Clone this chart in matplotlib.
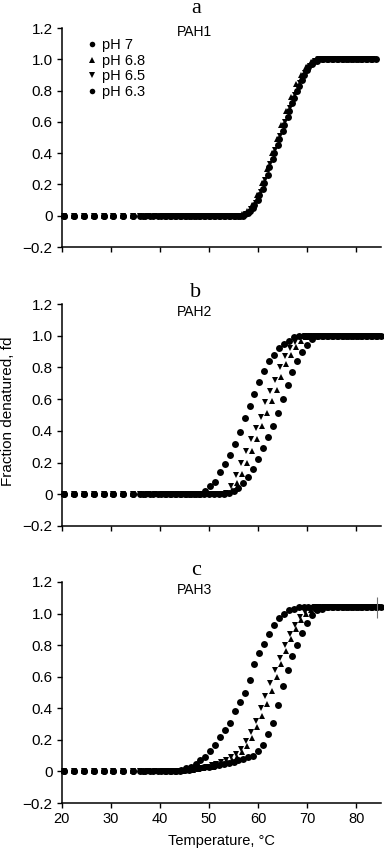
import matplotlib.pyplot as plt

plt.rcParams['font.family'] = ['Liberation Sans', 'DejaVu Sans']

# temperature readings (deg C) for each pH series; each run was sampled on its own grid
temp_ph7 = [20.5, 22.5, 24.5, 26.5, 28.5, 30.5, 32.5, 34.5, 36.5, 38, 39.5, 41,
            42, 43, 44, 45, 46, 47, 48, 49, 50, 51, 52, 53, 54, 55,
            56, 57, 58, 59, 60, 61, 62, 63, 64, 65, 66, 67, 68, 69, 70,
            71, 72, 73, 74, 75, 76, 77, 78, 79, 80, 81, 82, 83, 84, 85]
temp_ph68 = [20.5, 22.5, 24.5, 26.5, 28.5, 30.5, 32.5, 34.5, 36.5, 37.5, 39, 40.75,
             41.75, 42.75, 43.75, 44.75, 45.75, 46.75, 47.75, 48.75, 49.75, 50.75,
             51.75, 52.75, 53.75, 54.75, 55.75, 56.75, 57.75, 58.75, 59.75, 60.75,
             61.75, 62.75, 63.75, 64.75, 65.75, 66.75, 67.75, 68.75, 69.75, 70.75,
             71.75, 72.75, 73.75, 74.75, 75.75, 76.75, 77.75, 78.75, 79.75, 80.75,
             81.75, 82.75, 83.75, 84.75]
temp_ph65 = [20.5, 22.5, 24.5, 26.5, 28.5, 30.5, 32.5, 34.5, 36, 37.5, 39, 40.5,
             41.5, 42.5, 43.5, 44.5, 45.5, 46.5, 47.5, 48.5, 49.5, 50.5,
             51.5, 52.5, 53.5, 54.5, 55.5, 56.5, 57.5, 58.5, 59.5, 60.5,
             61.5, 62.5, 63.5, 64.5, 65.5, 66.5, 67.5, 68.5, 69.5, 70.5,
             71.5, 72.5, 73.5, 74.5, 75.5, 76.5, 77.5, 78.5, 79.5, 80.5,
             81.5, 82.5, 83.5, 84.5]
temp_ph63 = [20.5, 22.5, 24.5, 26.5, 28.5, 30.5, 32.5, 34.5, 36, 37, 38.5, 40.25,
             41.25, 42.25, 43.25, 44.25, 45.25, 46.25, 47.25, 48.25, 49.25, 50.25,
             51.25, 52.25, 53.25, 54.25, 55.25, 56.25, 57.25, 58.25, 59.25, 60.25,
             61.25, 62.25, 63.25, 64.25, 65.25, 66.25, 67.25, 68.25, 69.25, 70.25,
             71.25, 72.25, 73.25, 74.25, 75.25, 76.25, 77.25, 78.25, 79.25, 80.25,
             81.25, 82.25, 83.25, 84.25]

# PAH1
pah1_ph7 = [0, 0, 0, 0, 0, 0, 0, 0, 0, 0, 0, 0,
            0, 0, 0, 0, 0, 0, 0, 0, 0, 0, 0, 0, 0, 0, 0,
            0.0, 0.02, 0.05, 0.10, 0.17, 0.26, 0.36, 0.45, 0.54, 0.63, 0.72, 0.80,
            0.87, 0.93, 0.97, 0.99, 1.0,
            1, 1, 1, 1, 1, 1, 1, 1, 1, 1, 1]
pah1_ph68 = [0, 0, 0, 0, 0, 0, 0, 0, 0, 0, 0, 0,
             0, 0, 0, 0, 0, 0, 0, 0, 0, 0, 0, 0, 0, 0, 0,
             0.01, 0.03, 0.07, 0.13, 0.21, 0.30, 0.40, 0.49, 0.58, 0.67, 0.76, 0.84,
             0.90, 0.95, 0.98, 1.0, 1.0,
             1, 1, 1, 1, 1, 1, 1, 1, 1, 1, 1]
pah1_ph65 = [0, 0, 0, 0, 0, 0, 0, 0, 0, 0, 0, 0,
             0, 0, 0, 0, 0, 0, 0, 0, 0, 0, 0, 0, 0, 0, 0,
             0.0, 0.01, 0.04, 0.08, 0.15, 0.23, 0.33, 0.42, 0.51, 0.60, 0.69, 0.77,
             0.85, 0.91, 0.96, 0.99, 1.0,
             1, 1, 1, 1, 1, 1, 1, 1, 1, 1, 1]
pah1_ph63 = [0, 0, 0, 0, 0, 0, 0, 0, 0, 0, 0, 0,
             0, 0, 0, 0, 0, 0, 0, 0, 0, 0, 0, 0, 0, 0, 0,
             0.0, 0.01, 0.03, 0.07, 0.13, 0.21, 0.31, 0.40, 0.49, 0.58, 0.67, 0.75,
             0.83, 0.90, 0.95, 0.98, 1.0,
             1, 1, 1, 1, 1, 1, 1, 1, 1, 1, 1]

# PAH2
pah2_ph7 = [0, 0, 0, 0, 0, 0, 0, 0, 0, 0, 0, 0,
            0, 0, 0, 0, 0, 0, 0, 0, 0, 0, 0, 0,
            0.01, 0.02, 0.04, 0.07, 0.11, 0.16, 0.22, 0.29, 0.36, 0.43, 0.51, 0.60,
            0.69, 0.77, 0.84, 0.90, 0.94, 0.98, 1.0,
            1, 1, 1, 1, 1, 1, 1, 1, 1, 1, 1, 1, 1]
pah2_ph68 = [0, 0, 0, 0, 0, 0, 0, 0, 0, 0, 0, 0,
             0, 0, 0, 0, 0, 0, 0, 0, 0, 0, 0, 0,
             0.01, 0.03, 0.07, 0.13, 0.20, 0.27, 0.35, 0.43, 0.51, 0.59, 0.66, 0.74,
             0.82, 0.88, 0.93, 0.97, 0.99, 1.0,
             1, 1, 1, 1, 1, 1, 1, 1, 1, 1, 1, 1, 1, 1]
pah2_ph65 = [0, 0, 0, 0, 0, 0, 0, 0, 0, 0, 0, 0,
             0, 0, 0, 0, 0, 0, 0, 0, 0, 0, 0, 0,
             0.01, 0.05, 0.12, 0.20, 0.27, 0.35, 0.42, 0.49, 0.58, 0.65, 0.72, 0.80,
             0.87, 0.92, 0.96, 0.99, 1.0,
             1, 1, 1, 1, 1, 1, 1, 1, 1, 1, 1, 1, 1, 1, 1]
pah2_ph63 = [0, 0, 0, 0, 0, 0, 0, 0, 0, 0, 0, 0,
             0, 0, 0, 0, 0, 0, 0, 0,
             0.02, 0.05, 0.08, 0.14, 0.19, 0.25, 0.32, 0.39, 0.48, 0.56, 0.63, 0.71,
             0.78, 0.84, 0.88, 0.92, 0.95, 0.97, 0.99, 1.0,
             1, 1, 1, 1, 1, 1, 1, 1, 1, 1, 1, 1, 1, 1, 1, 1]

# PAH3
pah3_ph7 = [0, 0, 0, 0, 0, 0, 0, 0, 0, 0, 0, 0,
            0, 0,
            0.005, 0.01, 0.01, 0.02, 0.02, 0.03, 0.03, 0.035, 0.04, 0.05, 0.055, 0.06,
            0.07, 0.08, 0.09, 0.10, 0.13, 0.17, 0.24, 0.31, 0.42, 0.54, 0.64, 0.73,
            0.80, 0.88, 0.94, 0.99, 1.02, 1.03,
            1.04, 1.04, 1.04, 1.04, 1.04, 1.04, 1.04, 1.04, 1.04, 1.04, 1.04, 1.04]
pah3_ph68 = [0, 0, 0, 0, 0, 0, 0, 0, 0, 0, 0, 0,
             0, 0, 0, 0,
             0.01, 0.01, 0.015, 0.02, 0.025, 0.03, 0.04, 0.05, 0.06, 0.07, 0.09, 0.12,
             0.16, 0.21, 0.28, 0.35, 0.43, 0.51, 0.60, 0.68, 0.76, 0.84, 0.90, 0.96,
             1.0, 1.02, 1.03,
             1.04, 1.04, 1.04, 1.04, 1.04, 1.04, 1.04, 1.04, 1.04, 1.04, 1.04, 1.04, 1.04]
pah3_ph65 = [0, 0, 0, 0, 0, 0, 0, 0, 0, 0, 0, 0,
             0, 0, 0, 0,
             0.01, 0.01, 0.02, 0.02, 0.03, 0.04, 0.05, 0.06, 0.07, 0.09, 0.11, 0.14,
             0.19, 0.25, 0.32, 0.40, 0.48, 0.56, 0.64, 0.72, 0.80, 0.87, 0.93, 0.98,
             1.01, 1.03,
             1.04, 1.04, 1.04, 1.04, 1.04, 1.04, 1.04, 1.04, 1.04, 1.04, 1.04, 1.04, 1.04, 1.04]
pah3_ph63 = [0, 0, 0, 0, 0, 0, 0, 0, 0, 0, 0, 0,
             0, 0,
             0.005, 0.01, 0.02, 0.03, 0.05, 0.07, 0.09, 0.13, 0.17, 0.22, 0.26, 0.31,
             0.38, 0.44, 0.50, 0.58, 0.68, 0.75, 0.81, 0.87, 0.93, 0.97, 1.0, 1.02, 1.03,
             1.04, 1.04, 1.04, 1.04, 1.04, 1.04, 1.04, 1.04, 1.04, 1.04, 1.04, 1.04, 1.04,
             1.04, 1.04, 1.04, 1.04]
pah3_err = [0.065]  # stray error bar on the last point

labels = ['pH 7', 'pH 6.8', 'pH 6.5', 'pH 6.3']
markers = ['o', '^', 'v', 'o']
temps = [temp_ph7, temp_ph68, temp_ph65, temp_ph63]
panels = [
    ('a', 'PAH1', [pah1_ph7, pah1_ph68, pah1_ph65, pah1_ph63]),
    ('b', 'PAH2', [pah2_ph7, pah2_ph68, pah2_ph65, pah2_ph63]),
    ('c', 'PAH3', [pah3_ph7, pah3_ph68, pah3_ph65, pah3_ph63]),
]

fig = plt.figure(figsize=(3.84, 8.55), dpi=100)
boxes = [[0.161, 0.7111, 0.8307, 0.2561],
         [0.161, 0.3848, 0.8307, 0.2596],
         [0.161, 0.0608, 0.8307, 0.2585]]
letter_y = [13, 297, 575]
name_y = [1.175, 1.15, 1.15]

for i, (letter, name, series) in enumerate(panels):
    ax = fig.add_axes(boxes[i])
    for temp, vals, m, lab in zip(temps, series, markers, labels):
        ax.plot(temp[:len(vals)], vals, linestyle='none', marker=m, ms=5,
                color='black', markeredgewidth=0, label=lab, clip_on=False)
    ax.set_xlim(20, 85)
    ax.set_ylim(-0.2, 1.2)
    ax.set_yticks([-0.2, 0, 0.2, 0.4, 0.6, 0.8, 1.0, 1.2],
                  ['\u22120.2', '0', '0.2', '0.4', '0.6', '0.8', '1.0', '1.2'])
    ax.set_xticks([20, 30, 40, 50, 60, 70, 80])
    if i < 2:
        ax.set_xticklabels([])
    ax.spines['top'].set_visible(False)
    ax.spines['right'].set_visible(False)
    for sp in ['left', 'bottom']:
        ax.spines[sp].set_linewidth(1.1)
    ax.tick_params(axis='both', direction='out', length=3.6, width=1.0, color='black')
    ax.tick_params(axis='y', labelsize=11, pad=3)
    ax.tick_params(axis='x', labelsize=10.5, pad=3)
    ax.text(47.1, name_y[i], name, ha='center', va='center', fontsize=10)
    fig.text(196 / 384, 1 - letter_y[i] / 855, letter, ha='center', va='baseline',
             fontsize=16, family='Liberation Serif')
    if i == 0:
        ax.legend(loc='upper left', bbox_to_anchor=(0.075, 0.955), frameon=False,
                  fontsize=10.5, handlelength=0.8, handletextpad=0.3, borderpad=0,
                  labelspacing=0.12, markerscale=0.8, borderaxespad=0)
    if i == 2:
        ax.errorbar([temp_ph63[len(pah3_ph63) - 1]], [pah3_ph63[-1]], yerr=pah3_err,
                    fmt='none', ecolor='0.45', elinewidth=0.8, capsize=0, clip_on=False)

fig.text(8 / 384, 1 - 411 / 855, 'Fraction denatured, fd', rotation=90,
         ha='center', va='center', fontsize=11)
fig.text(221 / 384, 1 - 841 / 855, 'Temperature, \u00b0C', ha='center',
         va='center', fontsize=10.5)

fig.savefig('out.png', dpi=100)
